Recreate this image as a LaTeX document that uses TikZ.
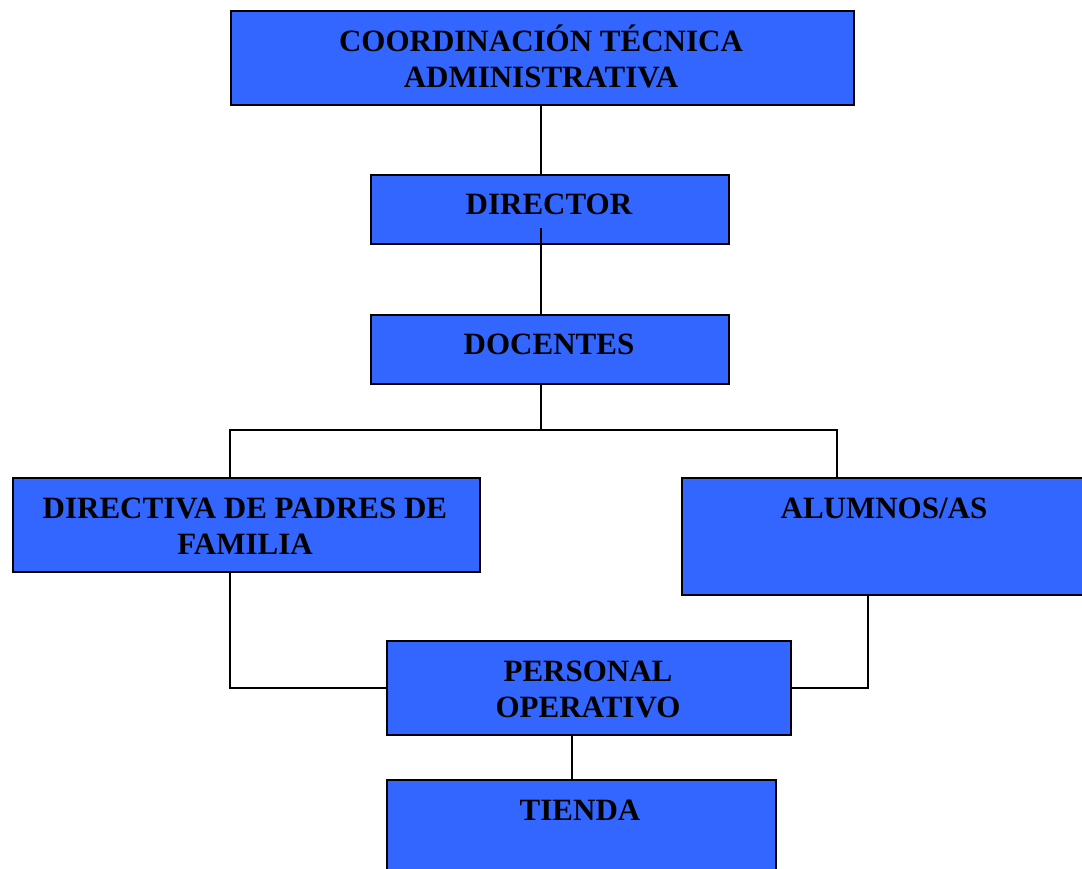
\documentclass[tikz,border=0pt]{standalone}
\usepackage{fontspec}
\setmainfont{Liberation Serif}
\begin{document}
\begin{tikzpicture}[x=1pt,y=-1pt,
  box/.style={draw=black,line width=1.8pt,fill=boxblue,inner sep=0pt,anchor=north west},
  lbl/.style={anchor=base,inner sep=0pt,font=\bfseries\fontsize{31}{36}\selectfont},
  conn/.style={draw=black,line width=1.6pt}]
\definecolor{boxblue}{HTML}{3366FF}
\useasboundingbox (0,0) rectangle (1082,868);
\clip (0,0) rectangle (1082,868);
% boxes
\node[box,minimum width=623pt,minimum height=94pt] (top) at (230,10) {};
\node[box,minimum width=358pt,minimum height=69pt] (director) at (370,174) {};
\node[box,minimum width=358pt,minimum height=69pt] (docentes) at (370,314) {};
\node[box,minimum width=467pt,minimum height=94pt] (directiva) at (12,477) {};
\node[box,minimum width=420pt,minimum height=117pt] (alumnos) at (681,477) {};
\node[box,minimum width=404pt,minimum height=94pt] (personal) at (386,640) {};
\node[box,minimum width=389pt,minimum height=110pt] (tienda) at (386,779) {};
% helper coordinates
\coordinate (spine) at (541,0);
\coordinate (dirmark) at (541,228);
\coordinate (bus) at (0,430);
\coordinate (L) at (230,0);
\coordinate (R) at (837,0);
\coordinate (R2) at (868,0);
\coordinate (T) at (572,0);
% connectors
\draw[conn] (top.south -| spine) -- (director.north -| spine);
\draw[conn] (dirmark) -- (docentes.north -| spine);
\draw[conn] (docentes.south -| spine) -- (spine |- bus);
\draw[conn] (directiva.north -| L) -- (L |- bus) -- (R |- bus) -- (alumnos.north -| R);
\draw[conn] (directiva.south -| L) |- (personal.west);
\draw[conn] (alumnos.south -| R2) |- (personal.east);
\draw[conn] (personal.south -| T) -- (tienda.north -| T);
% labels
\node[lbl] (t1) at (541,51) {COORDINACIÓN TÉCNICA};
\node[lbl] (t2) at (541,87) {ADMINISTRATIVA};
\node[lbl] (t3) at (549,214) {DIRECTOR};
\node[lbl] (t4) at (549,354) {DOCENTES};
\node[lbl] (t5) at (245,518) {DIRECTIVA DE PADRES DE};
\node[lbl] (t6) at (245,554) {FAMILIA};
\node[lbl] (t7) at (884,518) {ALUMNOS/AS};
\node[lbl] (t8) at (588,681) {PERSONAL};
\node[lbl] (t9) at (588,717) {OPERATIVO};
\node[lbl] (t10) at (580,820) {TIENDA};
\end{tikzpicture}
\end{document}
